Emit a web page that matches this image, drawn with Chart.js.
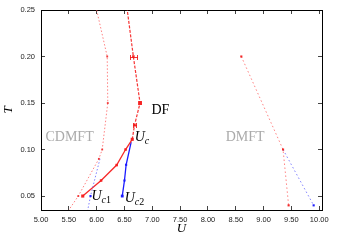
<!DOCTYPE html>
<html>
<head>
<meta charset="utf-8">
<script src="https://cdn.jsdelivr.net/npm/chart.js@4"></script>
<style>
  body { margin: 0; background: #fff; }
  canvas { display: block; }
</style>
</head>
<body>
<canvas id="chart" width="339" height="241" style="width:339px;height:241px"></canvas>
<script>
// Tick values
const xTicks = [5.0, 5.5, 6.0, 6.5, 7.0, 7.5, 8.0, 8.5, 9.0, 9.5, 10.0];
const yTicks = [0.05, 0.10, 0.15, 0.20, 0.25];

// CDMFT (dotted)
const cdmftRedU = [6.0, 6.19, 6.2, 6.1, 6.04, 5.67, 5.5];
const cdmftRedT = [0.25, 0.20, 0.15, 0.10, 0.09, 0.05, 0.035];
const cdmftBlueU = [6.06, 5.89, 5.84];
const cdmftBlueT = [0.09, 0.05, 0.035];

// DF
const dfLowU = [5.75, 6.08, 6.36, 6.52, 6.64];
const dfLowT = [0.05, 0.0667, 0.0833, 0.10, 0.111];
const dfHighU = [6.64, 6.68, 6.78, 6.66, 6.55];
const dfHighT = [0.111, 0.126, 0.15, 0.20, 0.25];
const dfBlueU = [6.62, 6.53, 6.5, 6.46];
const dfBlueT = [0.108, 0.0836, 0.0667, 0.05];

// DF error bars (horizontal)
const errT = [0.20, 0.126];
const errLo = [6.60, 6.65];
const errHi = [6.72, 6.71];

// DMFT (dotted)
const dmftRedU = [8.6, 9.35, 9.45];
const dmftRedT = [0.20, 0.10, 0.04];
const dmftBlueU = [9.35, 9.9];
const dmftBlueT = [0.10, 0.04];

const xy = (us, ts) => us.map((u, i) => ({ x: u, y: ts[i] }));

const tickFont = { family: 'Liberation Sans', size: 7.5 };

// error bars, text labels
const decorations = {
    id: 'decorations',
    afterDraw(chart) {
        const c = chart.ctx;
        const area = chart.chartArea;
        const sx = chart.scales.x;
        const sy = chart.scales.y;
        c.save();

        // error bars
        c.fillStyle = 'rgba(240,30,30,0.9)';
        errT.forEach((t, i) => {
            const py = Math.round(sy.getPixelForValue(t));
            const x1 = Math.round(sx.getPixelForValue(errLo[i]));
            const x2 = Math.round(sx.getPixelForValue(errHi[i]));
            c.fillRect(x1, py, x2 - x1 + 1, 1);
            c.fillRect(x1, py - 2, 1, 5);
            c.fillRect(x2, py - 2, 1, 5);
        });

        // text labels
        c.textBaseline = 'middle';
        c.textAlign = 'left';
        c.fillStyle = '#aaa';
        c.font = '14px "Liberation Serif"';
        c.fillText('CDMFT', sx.getPixelForValue(5.08), sy.getPixelForValue(0.1127));
        c.fillText('DMFT', sx.getPixelForValue(8.32), sy.getPixelForValue(0.1127));
        c.fillStyle = '#000';
        c.fillText('DF', sx.getPixelForValue(6.985), sy.getPixelForValue(0.1417));

        const drawU = (u, t, sub) => {
            const px = sx.getPixelForValue(u);
            const py = sy.getPixelForValue(t);
            c.font = 'italic 14px "Liberation Serif"';
            c.fillText('U', px, py);
            let cx = px + c.measureText('U').width;
            c.font = 'italic 10px "Liberation Serif"';
            c.fillText('c', cx, py + 4);
            cx += c.measureText('c').width;
            if (sub) {
                c.font = '10px "Liberation Serif"';
                c.fillText(sub, cx, py + 4);
            }
        };
        drawU(6.685, 0.1135, '');
        drawU(5.906, 0.0495, '1');
        drawU(6.505, 0.048, '2');

        // axis titles
        c.font = 'italic 13px "Liberation Serif"';
        c.textAlign = 'center';
        c.fillText('U', (area.left + area.right) / 2, 229);
        c.translate(9, (area.top + area.bottom) / 2);
        c.rotate(-Math.PI / 2);
        c.fillText('T', 0, 0);

        c.restore();
    }
};

const lineDefaults = { showLine: true, pointStyle: 'rect', pointBorderWidth: 0 };

// inward tick marks + frame line on every side
const innerGrid = { display: true, drawOnChartArea: false, drawTicks: true, tickLength: -4, color: '#444', lineWidth: 1 };
const frameBorder = { display: true, color: '#000', width: 1 };

// fixed box size, no extra label overflow padding
const fixSize = (w, h) => s => {
    if (w !== null) s.width = w;
    if (h !== null) s.height = h;
    s.paddingTop = 0;
    s.paddingBottom = 0;
    s.paddingLeft = 0;
    s.paddingRight = 0;
};

new Chart(document.getElementById('chart').getContext('2d'), {
    type: 'scatter',
    data: {
        datasets: [
            {
                ...lineDefaults,
                data: xy(cdmftRedU, cdmftRedT),
                borderColor: 'rgba(255,90,90,0.75)',
                borderWidth: 1,
                borderDash: [1.5, 2],
                pointRadius: [0, 1.3, 1.3, 1.3, 1.3, 1.3, 0],
                pointBackgroundColor: 'rgba(240,40,40,0.9)'
            },
            {
                ...lineDefaults,
                data: xy(cdmftBlueU, cdmftBlueT),
                borderColor: 'rgba(90,90,255,0.75)',
                borderWidth: 1,
                borderDash: [1.5, 2],
                pointRadius: [0, 1.5, 0],
                pointBackgroundColor: '#2020ff'
            },
            {
                ...lineDefaults,
                data: xy(dfLowU, dfLowT),
                borderColor: 'rgba(245,30,30,0.95)',
                borderWidth: 1.3,
                pointRadius: [2.2, 1.8, 1.8, 1.8, 2.2],
                pointBackgroundColor: 'rgba(245,30,30,0.95)'
            },
            {
                ...lineDefaults,
                data: xy(dfHighU, dfHighT),
                borderColor: 'rgba(245,30,30,0.9)',
                borderWidth: 1.2,
                borderDash: [3, 1.5],
                pointRadius: [0, 1.8, 2.8, 1.8, 0],
                pointBackgroundColor: 'rgba(245,30,30,0.95)'
            },
            {
                ...lineDefaults,
                data: xy(dfBlueU, dfBlueT),
                borderColor: '#1a1aff',
                borderWidth: 1.3,
                pointRadius: [0, 1.5, 1.5, 2],
                pointBackgroundColor: '#1a1aff'
            },
            {
                ...lineDefaults,
                data: xy(dmftRedU, dmftRedT),
                borderColor: 'rgba(255,90,90,0.75)',
                borderWidth: 1,
                borderDash: [1.5, 2.5],
                pointRadius: 1.5,
                pointBackgroundColor: 'rgba(240,30,30,0.95)'
            },
            {
                ...lineDefaults,
                data: xy(dmftBlueU, dmftBlueT),
                borderColor: 'rgba(90,90,255,0.75)',
                borderWidth: 1,
                borderDash: [1.5, 2.5],
                pointRadius: [0, 1.5],
                pointBackgroundColor: '#2020ff'
            }
        ]
    },
    options: {
        responsive: false,
        animation: false,
        layout: { padding: { top: 10, right: 17 } },
        plugins: { legend: { display: false }, tooltip: { enabled: false } },
        scales: {
            x: {
                min: 5.0,
                max: 10.05,
                afterBuildTicks: s => { s.ticks = xTicks.map(v => ({ value: v })); },
                afterFit: fixSize(null, 31),
                ticks: {
                    callback: v => v.toFixed(2),
                    font: tickFont,
                    color: '#222',
                    padding: 9,
                    maxRotation: 0,
                    autoSkip: false
                },
                grid: innerGrid,
                border: frameBorder
            },
            x2: {
                type: 'linear',
                position: 'top',
                min: 5.0,
                max: 10.05,
                afterBuildTicks: s => { s.ticks = xTicks.map(v => ({ value: v })); },
                afterFit: fixSize(null, 0),
                ticks: { display: false },
                grid: innerGrid,
                border: frameBorder
            },
            y: {
                min: 0.035,
                max: 0.25,
                afterBuildTicks: s => { s.ticks = yTicks.map(v => ({ value: v })); },
                afterFit: fixSize(41, null),
                ticks: {
                    callback: v => v.toFixed(2),
                    font: tickFont,
                    color: '#222',
                    padding: 10,
                    autoSkip: false
                },
                grid: innerGrid,
                border: frameBorder
            },
            y2: {
                type: 'linear',
                position: 'right',
                min: 0.035,
                max: 0.25,
                afterBuildTicks: s => { s.ticks = yTicks.map(v => ({ value: v })); },
                afterFit: fixSize(0, null),
                ticks: { display: false },
                grid: innerGrid,
                border: frameBorder
            }
        }
    },
    plugins: [decorations]
});
</script>
</body>
</html>
